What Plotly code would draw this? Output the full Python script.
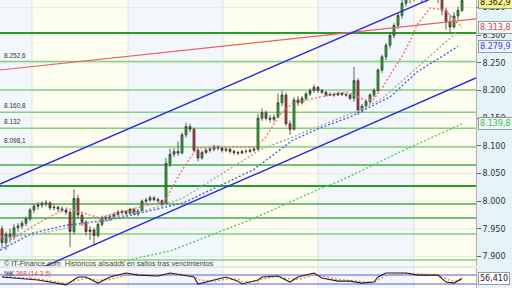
import plotly.graph_objects as go

# ---------------- data ----------------
bar_open = [7.950,7.925,7.940,7.935,7.952,7.955,7.960,7.968,7.984,7.991,7.993,7.996,7.997,7.988,7.989,7.986,7.984,7.980,7.945,8.005,
            7.975,7.962,7.945,7.948,7.938,7.958,7.970,7.968,7.972,7.976,7.980,7.981,7.978,7.985,7.977,7.982,8.000,8.002,8.006,8.003,
            8.001,7.995,8.068,8.085,8.090,8.087,8.120,8.135,8.130,8.092,8.078,8.088,8.092,8.094,8.098,8.096,8.092,8.094,8.090,8.088,
            8.087,8.090,8.090,8.092,8.094,8.150,8.160,8.150,8.148,8.152,8.178,8.192,8.140,8.130,8.183,8.178,8.186,8.194,8.200,8.206,
            8.200,8.197,8.192,8.193,8.192,8.195,8.193,8.192,8.186,8.218,8.165,8.172,8.180,8.192,8.200,8.237,8.261,8.282,8.300,8.318,
            8.336,8.358,8.372,8.368,8.372,8.375,8.370,8.368,8.375,8.372,8.365,8.345,8.325,8.315,8.335,8.345]
bar_high = [7.956,7.945,7.950,7.958,7.960,7.965,7.972,7.988,7.995,7.998,8.000,8.002,7.999,7.994,7.992,7.991,7.987,7.983,8.022,8.012,
            7.980,7.966,7.955,7.952,7.962,7.974,7.975,7.977,7.980,7.984,7.985,7.984,7.988,7.988,7.986,8.003,8.006,8.010,8.009,8.006,
            8.003,8.078,8.095,8.096,8.108,8.124,8.142,8.140,8.133,8.096,8.092,8.096,8.098,8.102,8.101,8.099,8.097,8.096,8.093,8.091,
            8.093,8.094,8.095,8.097,8.158,8.168,8.164,8.156,8.157,8.195,8.200,8.196,8.146,8.188,8.190,8.190,8.198,8.204,8.211,8.208,
            8.203,8.199,8.197,8.196,8.198,8.197,8.196,8.194,8.243,8.222,8.176,8.184,8.195,8.204,8.240,8.265,8.286,8.304,8.322,8.340,
            8.372,8.380,8.378,8.382,8.386,8.379,8.377,8.385,8.382,8.376,8.368,8.350,8.338,8.342,8.352,8.368]
bar_low = [7.915,7.912,7.925,7.930,7.945,7.950,7.955,7.964,7.978,7.985,7.988,7.990,7.984,7.983,7.981,7.980,7.975,7.917,7.940,7.968,
           7.955,7.938,7.930,7.920,7.934,7.954,7.963,7.964,7.968,7.972,7.975,7.974,7.975,7.974,7.973,7.980,7.996,7.999,8.000,7.997,
           7.990,7.993,8.062,8.080,8.082,8.085,8.115,8.124,8.088,8.072,8.075,8.085,8.088,8.090,8.092,8.088,8.089,8.086,8.084,8.083,
           8.085,8.086,8.087,8.089,8.092,8.145,8.146,8.142,8.144,8.150,8.172,8.136,8.120,8.128,8.172,8.175,8.182,8.190,8.196,8.196,
           8.194,8.189,8.190,8.189,8.190,8.190,8.189,8.183,8.180,8.156,8.160,8.168,8.176,8.188,8.198,8.232,8.255,8.276,8.294,8.312,
           8.330,8.352,8.358,8.362,8.366,8.360,8.359,8.364,8.366,8.358,8.336,8.310,8.306,8.312,8.328,8.342]
bar_close = [7.925,7.940,7.935,7.952,7.955,7.960,7.968,7.984,7.991,7.993,7.996,7.997,7.988,7.989,7.986,7.984,7.980,7.945,8.005,7.975,
             7.962,7.945,7.948,7.938,7.958,7.970,7.968,7.972,7.976,7.980,7.981,7.978,7.985,7.977,7.982,8.000,8.002,8.006,8.003,8.001,
             7.995,8.068,8.085,8.090,8.087,8.120,8.135,8.130,8.092,8.078,8.088,8.092,8.094,8.098,8.096,8.092,8.094,8.090,8.088,8.087,
             8.090,8.090,8.092,8.094,8.150,8.160,8.150,8.148,8.152,8.178,8.192,8.140,8.130,8.183,8.178,8.186,8.194,8.200,8.206,8.200,
             8.197,8.192,8.193,8.192,8.195,8.193,8.192,8.186,8.218,8.165,8.172,8.180,8.192,8.200,8.237,8.261,8.282,8.300,8.318,8.336,
             8.358,8.372,8.368,8.372,8.375,8.370,8.368,8.375,8.372,8.365,8.345,8.325,8.315,8.335,8.345,8.3629]

# dotted averages (bar index, price)
ma_red_x = [2, 9.5, 16.25, 19.5, 24.5, 34.5, 40.25, 41.25, 45, 48.75, 57, 63.25, 65.75, 69.5, 72.75, 79.5, 86.25, 90.75, 92.75, 95.25, 97.75, 100.25, 102.5, 103.75, 107, 110.75, 115]
ma_red_y = [7.9298, 7.962, 7.9877, 7.9804, 7.9696, 7.9895, 7.9985, 8.0076, 8.0564, 8.0962, 8.098, 8.098, 8.1143, 8.1559, 8.1776, 8.1884, 8.1974, 8.183, 8.183, 8.2065, 8.2372, 8.2644, 8.2969, 8.3186, 8.3493, 8.3457, 8.3138]
ma_gray_x = [-0.5, 7.75, 16.25, 24.5, 34.5, 40.25, 45.25, 64.5, 72, 82, 89.5, 95.25, 104.5, 113.75]
ma_gray_y = [7.9352, 7.9388, 7.9515, 7.966, 7.9804, 7.993, 8.0057, 8.0926, 8.1143, 8.1432, 8.1649, 8.1866, 8.2463, 8.3059]
ma_blue_x = [-0.5, 7.75, 16.25, 27, 34.5, 40.25, 45.25, 62.75, 72.75, 79.5, 87, 97, 103.75, 114]
ma_blue_y = [7.9117, 7.9425, 7.9569, 7.966, 7.9786, 7.9877, 7.9967, 8.0564, 8.1106, 8.1323, 8.1522, 8.1884, 8.2336, 8.2799]
ma_green_x = [29.5, 42, 62, 78.75, 84.5, 99.5, 115]
ma_green_y = [7.8901, 7.9100, 7.9660, 8.0202, 8.0365, 8.0890, 8.1398]

# trend lines (start / end at chart edges)
trend_x = [-0.5, 118.5]
trend_red = [8.2372, 8.3295]
trend_blue_up = [8.0311, 8.4012]
trend_blue_low = [7.8468, 8.2228]

# horizontal support / resistance levels
levels = [8.3041, 8.2526, 8.2011, 8.1608, 8.132, 8.0981, 8.0654, 8.0275, 7.9949, 7.9696, 7.9407, 7.8937]
level_kind = ["thick", "light", "light", "light", "light", "light", "mid", "thick", "mid", "mid", "light", "light"]
level_labels = {8.2526: "8.252,6", 8.1608: "8.160,8", 8.132: "8.132", 8.0981: "8.098,1"}

# stochastic panel
sto_x = [0, 4, 9, 16, 19, 21, 24, 27, 31, 34, 39, 42, 45, 48, 49, 53, 56, 59, 60, 64, 65, 69, 72, 74, 78, 80, 84, 87, 90, 93, 94, 96, 101, 104, 109, 111, 113, 115]
sto_k = [67, 60, 47, 14, 67, 67, 26, 67, 93, 79, 73, 93, 79, 67, 20, 47, 67, 39, 20, 47, 67, 73, 33, 67, 93, 60, 39, 39, 26, 33, 67, 93, 93, 79, 79, 33, 26, 56.41]
sto_d = [70, 64, 54, 24, 46, 60, 46, 50, 78, 86, 76, 84, 84, 72, 48, 36, 54, 54, 36, 36, 54, 70, 54, 50, 80, 75, 50, 42, 33, 30, 46, 75, 92, 87, 80, 54, 36, 50]

# month bands and y ticks
band_edges = [-0.5, 7.5, 31.5, 55.25, 79, 103, 118.5]
ytick_vals = [7.90, 7.95, 8.00, 8.05, 8.10, 8.15, 8.20, 8.25, 8.30, 8.35]
ytick_text = ["7.900", "7.950", "8.000", "8.050", "8.100", "8.150", "8.200", "8.250", "8.300", "8.350"]

# ---------------- figure ----------------
N = len(bar_close)
idx = list(range(N))
W, H = 512, 288
xdom = [0, 476 / W]
main_dom = [22 / H, 1.0]
sto_dom = [0, 20 / H]
yr = [7.8828, 8.3638]

fig = go.Figure()

shapes = []
# bands
for k in range(len(band_edges) - 1):
    col = "#fdfdf0" if k % 2 == 1 else "#f2f7fb"
    shapes.append(dict(type="rect", xref="x", yref="paper", x0=band_edges[k], x1=band_edges[k + 1],
                       y0=0, y1=1, fillcolor=col, line_width=0, layer="below"))
for e in band_edges[1:-1]:
    shapes.append(dict(type="line", xref="x", yref="paper", x0=e, x1=e, y0=0, y1=1,
                       line=dict(color="#e2e2e2", width=1), layer="below"))
# faint price grid
for tv in ytick_vals:
    shapes.append(dict(type="line", xref="x", yref="y", x0=-0.5, x1=118.5, y0=tv, y1=tv,
                       line=dict(color="#e8e8e8", width=1), layer="below"))
# separator between panels
shapes.append(dict(type="rect", xref="paper", yref="paper", x0=0, x1=xdom[1], y0=sto_dom[1], y1=main_dom[0],
                   fillcolor="#e6e6e6", line_width=0, layer="below"))
# levels
style = {"thick": ("#2a9a2a", 2.2), "mid": ("#4aa84a", 1.6), "light": ("#86cf80", 1.6)}
for lv, kd in zip(levels, level_kind):
    c, w = style[kd]
    shapes.append(dict(type="line", xref="x", yref="y", x0=-0.5, x1=118.5, y0=lv, y1=lv,
                       line=dict(color=c, width=w), layer="below"))
# stochastic bounds
for v in (80, 20):
    shapes.append(dict(type="line", xref="x2", yref="y2", x0=-0.5, x1=118.5, y0=v, y1=v,
                       line=dict(color="#5a5ae6", width=1.2), layer="below"))

# trend lines
fig.add_trace(go.Scatter(x=trend_x, y=trend_red, mode="lines", line=dict(color="#e86060", width=1.2), hoverinfo="skip"))
fig.add_trace(go.Scatter(x=trend_x, y=trend_blue_up, mode="lines", line=dict(color="#2828e0", width=1.4), hoverinfo="skip"))
fig.add_trace(go.Scatter(x=trend_x, y=trend_blue_low, mode="lines", line=dict(color="#2828e0", width=1.4), hoverinfo="skip"))

# dotted averages
dash = "2px,2px"
fig.add_trace(go.Scatter(x=ma_green_x, y=ma_green_y, mode="lines", line=dict(color="#5cc65c", width=1.4, dash=dash), hoverinfo="skip"))
fig.add_trace(go.Scatter(x=ma_blue_x, y=ma_blue_y, mode="lines", line=dict(color="#4a62e6", width=1.4, dash=dash), hoverinfo="skip"))
fig.add_trace(go.Scatter(x=ma_gray_x, y=ma_gray_y, mode="lines", line=dict(color="#a8a8a8", width=1.4, dash=dash), hoverinfo="skip"))
fig.add_trace(go.Scatter(x=ma_red_x, y=ma_red_y, mode="lines", line=dict(color="#f07474", width=1.4, dash=dash), hoverinfo="skip"))

# candles
fig.add_trace(go.Candlestick(x=idx, open=bar_open, high=bar_high, low=bar_low, close=bar_close,
                             increasing=dict(fillcolor="#16c816", line=dict(color="#3a3a3a", width=0.8)),
                             decreasing=dict(fillcolor="#d83030", line=dict(color="#3a3a3a", width=0.8)),
                             whiskerwidth=0, hoverinfo="skip"))

# stochastic
fig.add_trace(go.Scatter(x=sto_x, y=sto_d, xaxis="x2", yaxis="y2", mode="lines",
                         line=dict(color="#f08080", width=1.4, dash=dash), hoverinfo="skip"))
fig.add_trace(go.Scatter(x=sto_x, y=sto_k, xaxis="x2", yaxis="y2", mode="lines",
                         line=dict(color="#202020", width=1.1), hoverinfo="skip"))

ann = []
for lv, txt in level_labels.items():
    ann.append(dict(xref="paper", yref="y", x=0.004, y=lv, xanchor="left", yanchor="bottom", yshift=1,
                    text=txt, showarrow=False, font=dict(family="Liberation Sans", size=6.5, color="#333")))
ann.append(dict(xref="paper", yref="paper", x=0.004, y=(H - 263) / H, xanchor="left", yanchor="middle",
                text="© IT-Finance.com  Históricos alisados en saltos tras vencimientos", showarrow=False,
                font=dict(family="Liberation Sans", size=7.2, color="#444")))
ann.append(dict(xref="paper", yref="paper", x=0.004, y=(H - 274) / H, xanchor="left", yanchor="middle",
                text="%K <span style='color:#e05050'>368 (14 3 5)</span>", showarrow=False,
                font=dict(family="Liberation Sans", size=6.5, color="#222")))

def rlabel(y, txt, color, bg, yref="y", ys=0):
    return dict(xref="paper", yref=yref, x=478 / W, y=y, xanchor="left", yanchor="middle", text=txt, yshift=ys,
                showarrow=False, font=dict(family="DejaVu Sans", size=8, color=color), bgcolor=bg,
                bordercolor="#9a9a9a", borderwidth=1, borderpad=1)

ann.append(rlabel(8.3629, "8.362,9", "#222", "#f6f48a", ys=-2))
ann.append(rlabel(8.3138, "8.313,8", "#e04848", "#eef6fa"))
ann.append(rlabel(8.2799, "8.279,9", "#3a3aff", "#eef6fa"))
ann.append(rlabel(8.1398, "8.139,8", "#33c833", "#eef6fa"))
ann.append(rlabel(56.41, "56,410", "#222", "#ffffff", yref="y2"))

fig.update_layout(
    width=W, height=H, margin=dict(l=0, r=0, t=0, b=0),
    paper_bgcolor="#e4f3f8", plot_bgcolor="#f2f7fb", showlegend=False,
    shapes=shapes, annotations=ann,
    xaxis=dict(domain=xdom, range=[-0.5, 118.5], visible=False, rangeslider=dict(visible=False), anchor="y"),
    yaxis=dict(domain=main_dom, range=yr, side="right", anchor="x", tickvals=ytick_vals, ticktext=ytick_text,
               ticks="outside", ticklen=4, tickcolor="#666", showgrid=False, zeroline=False,
               tickfont=dict(family="DejaVu Sans", size=8, color="#333"), showline=True, linecolor="#b0b0b0", linewidth=1),
    xaxis2=dict(domain=xdom, range=[-0.5, 118.5], visible=False, anchor="y2", matches="x"),
    yaxis2=dict(domain=sto_dom, range=[-6.7, 126.7], visible=True, showticklabels=False, showgrid=False, zeroline=False,
                anchor="x2", side="right", showline=True, linecolor="#b0b0b0", linewidth=1, ticks=""),
)

fig.write_html("out.html")
